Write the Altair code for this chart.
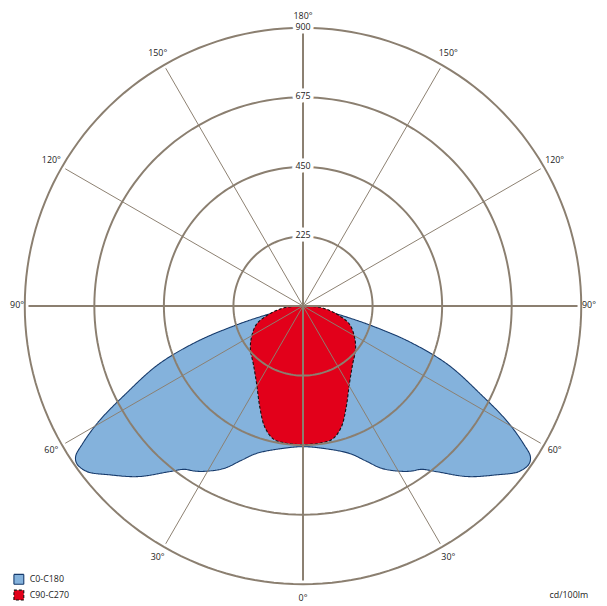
import altair as alt
import pandas as pd

# ---- data ----
planes = ["C0-C180", "C90-C270"]

# C0-C180 half curve: angle from nadir (deg) and intensity (cd/100lm)
blue_angles = [0, 8, 17.5, 22, 26, 31, 33.5, 36, 39, 44, 49, 52.5, 55, 56.5, 58, 60.5, 63.5, 68, 71.5, 74, 75.5, 77.5, 80, 85, 90]
blue_cd = [455, 465, 500, 540, 585, 624, 640, 653, 690, 767, 832, 880, 892, 882, 841, 760, 645, 505, 360, 230, 160, 90, 40, 10, 0]

# C90-C270 half curve
red_angles = [0, 7, 12.5, 17.5, 23, 30.5, 40, 51, 60, 69, 75, 80, 85.5, 90]
red_cd = [448, 447, 441, 411, 357, 295, 249, 219, 191, 160, 122, 90, 54, 0]

ring_values = [225, 450, 675, 900]
spoke_angles = [0, 30, 60, 90, 120, 150, 180, 210, 240, 270, 300, 330]
degree_ticks = [0, 30, 60, 90, 120, 150, 180]
unit_label = ["cd/100lm"]

# ---- styling ----
GRID = "#8b7f70"
TEXT = "#222222"
FONT = "Open Sans"
fills = ["#84b2dc", "#e2001a"]
strokes = ["#163a6b", "#111111"]
dashes = [[1, 0], [3, 2]]

K = 900 / 282.0  # cd per pixel
xs = alt.Scale(domain=[-299 * K, 300 * K], nice=False, zero=False)
ys = alt.Scale(domain=[-300 * K, 298 * K], nice=False, zero=False)


def polygon(name, angs, vals):
    pts = [(-a, v) for a, v in zip(reversed(angs), reversed(vals))] + list(zip(angs, vals))[1:]
    return [{"plane": name, "i": k, "angle": a, "cd": v} for k, (a, v) in enumerate(pts)]


curve_df = pd.DataFrame(polygon(planes[0], blue_angles, blue_cd) + polygon(planes[1], red_angles, red_cd))

ring_df = pd.DataFrame([{"r": r, "angle": a} for r in ring_values for a in range(0, 361, 2)])
spoke_df = pd.DataFrame([
    {"a": a, "cd": r, "w": 2.0 if a % 90 == 0 else 1.0}
    for a in spoke_angles for r in (0, 888)
])

# label radius (cd units) per tick, kept inside the page
label_radius = {0: 948, 30: 940, 60: 940, 90: 925, 120: 940, 150: 940, 180: 935}
deg_rows = []
for d in degree_ticks:
    signs = [1] if d in (0, 180) else [1, -1]
    for s in signs:
        deg_rows.append({"angle": s * d, "label": f"{d}°", "rr": label_radius[d]})
deg_df = pd.DataFrame(deg_rows)
val_df = pd.DataFrame({"r": ring_values, "label": [str(v) for v in ring_values]})

XCALC = "-datum.cd*sin(datum.angle*PI/180)"
YCALC = "-datum.cd*cos(datum.angle*PI/180)"

leg = alt.Legend(title=None, orient="none", legendX=5, legendY=569, symbolType="square",
                 symbolSize=100, labelFont=FONT, labelFontSize=9, labelColor=TEXT,
                 rowPadding=0, labelOffset=5, padding=0, symbolStrokeWidth=1.1)

curves = alt.Chart(curve_df).transform_calculate(
    x=XCALC, y=YCALC
).mark_line(strokeWidth=1.1, strokeJoin="round", interpolate="catmull-rom").encode(
    x=alt.X("x:Q", scale=xs, axis=None),
    y=alt.Y("y:Q", scale=ys, axis=None),
    order=alt.Order("i:Q"),
    fill=alt.Fill("plane:N", scale=alt.Scale(domain=planes, range=fills), legend=leg),
    stroke=alt.Stroke("plane:N", scale=alt.Scale(domain=planes, range=strokes), legend=leg),
    strokeDash=alt.StrokeDash("plane:N", scale=alt.Scale(domain=planes, range=dashes), legend=leg),
)

rings = alt.Chart(ring_df).transform_calculate(
    x="datum.r*sin(datum.angle*PI/180)", y="datum.r*cos(datum.angle*PI/180)"
).mark_line(stroke=GRID, strokeWidth=2).encode(
    x=alt.X("x:Q", scale=xs, axis=None),
    y=alt.Y("y:Q", scale=ys, axis=None),
    detail="r:N",
    order=alt.Order("angle:Q"),
)

spokes = alt.Chart(spoke_df).transform_calculate(
    x="datum.cd*sin(datum.a*PI/180)", y="-datum.cd*cos(datum.a*PI/180)"
).mark_line(stroke=GRID).encode(
    x=alt.X("x:Q", scale=xs, axis=None),
    y=alt.Y("y:Q", scale=ys, axis=None),
    detail="a:N",
    strokeWidth=alt.StrokeWidth("w:Q", scale=None),
)

deg_labels = alt.Chart(deg_df).transform_calculate(
    x="-datum.rr*sin(datum.angle*PI/180)", y="-datum.rr*cos(datum.angle*PI/180)"
).mark_text(font=FONT, fontSize=9, color=TEXT, align="center", baseline="middle", dy=-1).encode(
    x=alt.X("x:Q", scale=xs, axis=None),
    y=alt.Y("y:Q", scale=ys, axis=None),
    text="label:N",
)

val_base = alt.Chart(val_df).transform_calculate(x="0", y="datum.r").encode(
    x=alt.X("x:Q", scale=xs, axis=None),
    y=alt.Y("y:Q", scale=ys, axis=None),
    text="label:N",
)
val_halo = val_base.mark_text(font=FONT, fontSize=9, color="white", stroke="white", strokeWidth=7,
                              strokeJoin="round", align="center", baseline="middle", dy=-1)
val_text = val_base.mark_text(font=FONT, fontSize=9, color=TEXT, align="center", baseline="middle", dy=-1)

unit = alt.Chart(pd.DataFrame({"t": unit_label})).mark_text(
    font=FONT, fontSize=9, color=TEXT, align="right", baseline="alphabetic"
).encode(x=alt.value(588), y=alt.value(594), text="t:N")

chart = alt.layer(curves, rings, spokes, val_halo, val_text, deg_labels, unit).properties(
    width=599, height=598,
    autosize=alt.AutoSizeParams(type="none"),
    padding=0,
).configure_view(stroke=None)

chart.save("out.html", embed_options={"renderer": "svg", "actions": False})
